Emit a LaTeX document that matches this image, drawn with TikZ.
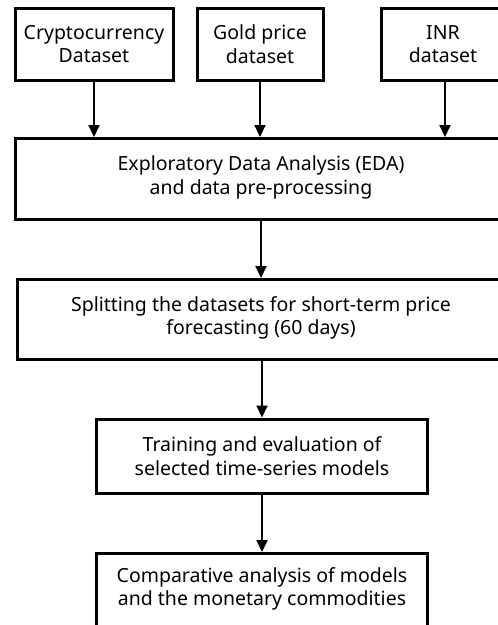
\documentclass[tikz,border=0pt]{standalone}
\usepackage{fontspec}
\setmainfont{Noto Sans}
\usetikzlibrary{arrows.meta}
\begin{document}
\begin{tikzpicture}[x=1pt,y=-1pt,
  txt/.style={align=center, inner sep=0pt, font=\fontsize{19.5}{23.5}\selectfont},
  box/.style={txt, draw=black, line width=3pt, fill=white},
  arr/.style={draw=black, line width=2pt, -{Triangle[length=12pt,width=11pt]}}]
\useasboundingbox (0,0) rectangle (498,625);
\clip (0,0) rectangle (498,625);
\fill[white] (0,0) rectangle (498,625);
% top boxes
\node[box, minimum width=158pt, minimum height=72pt] (c) at (94,44) {Cryptocurrency\\Dataset};
\node[box, minimum width=126pt, minimum height=72pt] (g) at (260,44) {Gold price\\dataset};
\node[box, minimum width=126pt, minimum height=72pt, anchor=west] (i) at (380,44) {};
\node[txt] (it) at (443,44) {INR\\dataset};
\coordinate (ia) at (445,80);
% EDA
\node[box, minimum width=494pt, minimum height=81pt, anchor=north west] (e) at (14,137) {};
\node[txt] (et) at (261,177.5) {Exploratory Data Analysis (EDA)\\and data pre-processing};
% Split
\node[box, minimum width=492pt, minimum height=80pt, anchor=north west] (s) at (16,278) {};
\node[txt] (st) at (261,318) {Splitting the datasets for short-term price\\forecasting (60 days)};
% Training
\node[box, minimum width=331pt, minimum height=74pt] (t) at (262,456) {Training and evaluation of\\selected time-series models};
% Comparative
\node[box, minimum width=331pt, minimum height=90pt, anchor=north] (m) at (262,552) {};
\node[txt] (mt) at (262,589) {Comparative analysis of models\\and the monetary commodities};
% arrows
\draw[arr] (c.south) -- (c.south |- e.north);
\draw[arr] (g.south) -- (g.south |- e.north);
\draw[arr] (ia) -- (ia |- e.north);
\draw[arr] (e.south -| et) -- (et |- s.north);
\draw[arr] (s.south -| t) -- (t.north);
\draw[arr] (t.south) -- (m.north);
\end{tikzpicture}
\end{document}
